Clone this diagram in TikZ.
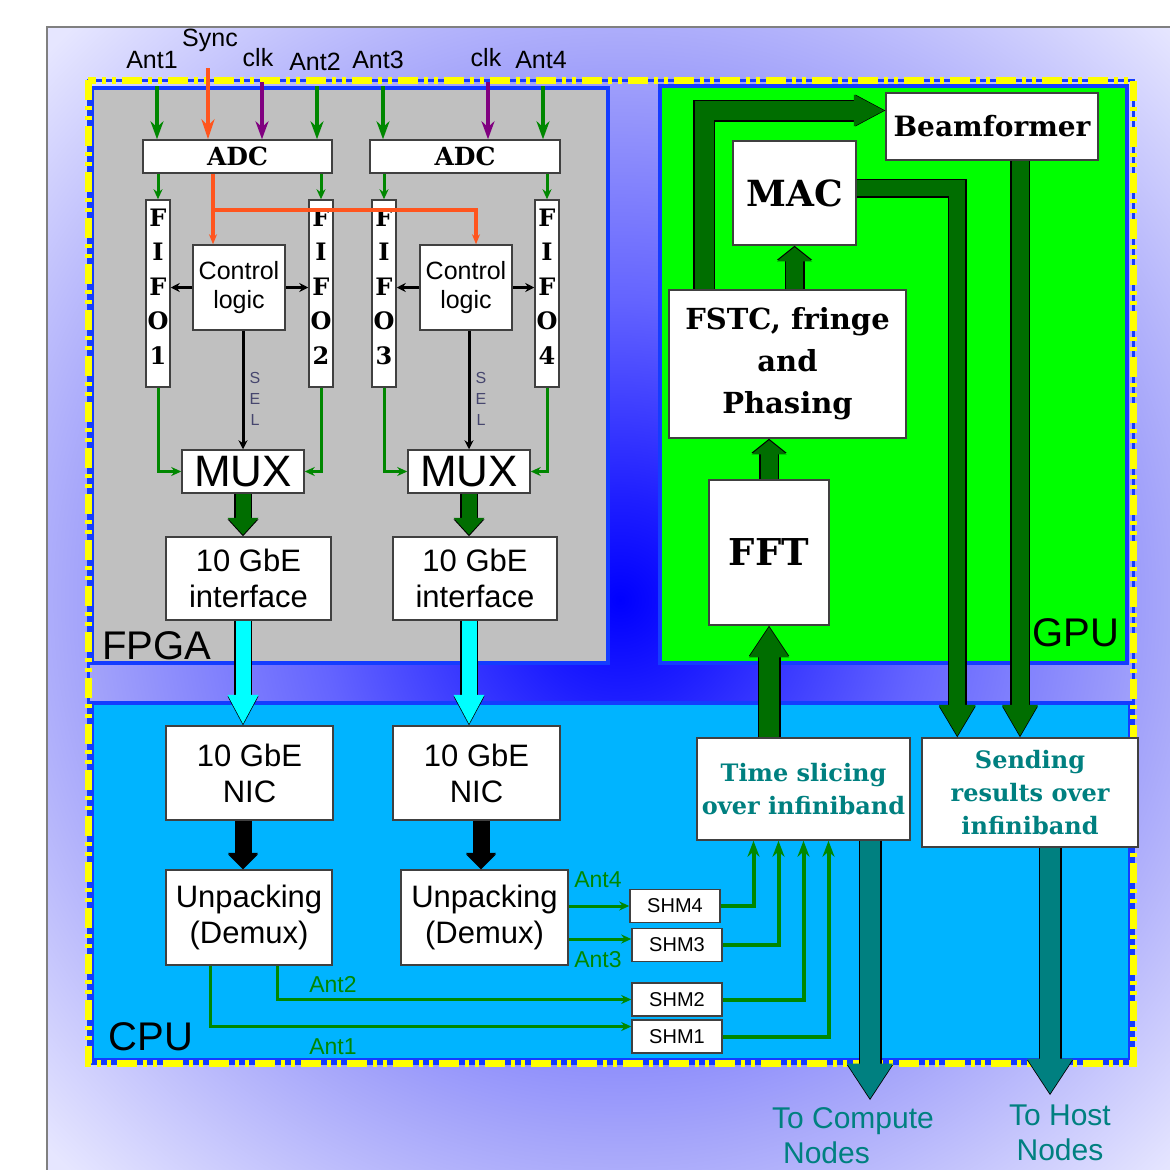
\documentclass[tikz,border=0pt]{standalone}
\usepackage{fontspec}
\setmainfont{Liberation Sans}
\newfontfamily\heavyfam{DejaVu Serif}
\usetikzlibrary{arrows.meta,positioning,calc}

\definecolor{fpgagray}{RGB}{192,192,192}
\definecolor{gpugreen}{RGB}{0,255,0}
\definecolor{cpublue}{RGB}{0,180,255}
\definecolor{edgeblue}{RGB}{20,60,255}
\definecolor{frameyellow}{RGB}{255,255,0}
\definecolor{sigreen}{RGB}{0,135,0}
\definecolor{pipegreen}{RGB}{0,110,0}
\definecolor{pipecyan}{RGB}{0,255,255}
\definecolor{syncorange}{RGB}{255,85,30}
\definecolor{clkpurple}{RGB}{128,0,128}
\definecolor{tealout}{RGB}{0,128,128}
\definecolor{seltext}{RGB}{70,70,110}
\definecolor{glowA}{RGB}{0,0,255}
\definecolor{glowB}{RGB}{30,30,255}
\definecolor{glowC}{RGB}{100,100,255}
\definecolor{glowD}{RGB}{165,165,250}
\definecolor{glowE}{RGB}{230,230,255}
\pgfdeclareradialshading{backglow}{\pgfpoint{0bp}{0bp}}{color(0bp)=(glowA); color(100bp)=(glowB); color(300bp)=(glowC); color(540bp)=(glowD); color(790bp)=(glowE); color(950bp)=(glowE)}

\newcommand{\fs}[2]{\fontsize{#1}{#2}\selectfont}
\newcommand{\hv}{\heavyfam\bfseries}
\newcommand{\stackup}[1]{\raisebox{5pt}[\height][\depth]{\begin{tabular}{@{}c@{}}#1\end{tabular}}}

\begin{document}
\begin{tikzpicture}[x=1pt, y=-1pt,
	box/.style={draw=black!75, fill=white, line width=1.5pt, inner sep=0pt, align=center},
	wh/.style 2 args={minimum width=#1pt, minimum height=#2pt},
	fifo/.style={box, wh={24}{187}, font=\hv\fs{24}{34.5}},
	shm/.style={box, wh={90}{33}, font=\fs{20}{20}},
	lbl/.style={inner sep=0pt, font=\fs{25}{25}},
	antlbl/.style={inner sep=0pt, font=\fs{23}{23}, text=sigreen},
	zone/.style={inner sep=0pt, font=\fs{40}{40}},
	feed/.style={line width=4pt, -{Stealth[length=18pt,width=13pt]}},
	sig/.style={draw=sigreen, line width=3pt, -{Stealth[length=10pt,width=9pt]}},
	ctl/.style={draw=black, line width=3pt, -{Stealth[length=9pt,width=9pt]}},
	sync/.style={draw=syncorange, line width=3.5pt},
	pipe/.style n args={4}{draw=#1, line width=#2, shorten >=1.5pt,
		-{Triangle[length=#4, width=#3, line width=0pt]},
		preaction={draw=black, line width=#2+3pt, shorten >=0pt,
			-{Triangle[length=#4, width=#3, line width=0pt]}}}
	]
	
	\useasboundingbox (0,0) rectangle (1170,1170);
	\fill[white] (0,0) rectangle (1170,1170);
	\begin{scope}
		\clip (47,27) rectangle (1170,1170);
		\node[inner sep=0pt] (glow) at (620,600) {\pgfuseshading{backglow}};
	\end{scope}
	\draw[gray, line width=1.5pt] (1170,27) -- (47,27) -- (47,1170);
	
	% the three boards
	\filldraw[fill=fpgagray, draw=edgeblue, line width=4pt] (92,88) rectangle (608,663);
	\filldraw[fill=gpugreen, draw=edgeblue, line width=4pt] (660,86) rectangle (1127,663);
	\filldraw[fill=cpublue, draw=edgeblue, line width=4pt] (92,703) rectangle (1130,1060);
	\draw[edgeblue, line width=3pt] (88,80) rectangle (1133,1063);
	\draw[frameyellow, line width=7pt, dash pattern=on 20pt off 6pt on 4pt off 6pt on 4pt off 6pt] (88,80) rectangle (1133,1063);
	
	\node[zone] (fpga) at (157,646) {FPGA};
	\node[zone] (gpu) at (1076,633) {GPU};
	\node[zone] (cpu) at (151,1037) {CPU};
	
	% FPGA
	\node[lbl] (lAnt1) at (152,60) {Ant1};
	\node[lbl] (lSync) at (210,40) {Sync};
	\node[lbl] (lClkA) at (258,58) {clk};
	\node[lbl] (lAnt2) at (315,62) {Ant2};
	\node[lbl] (lAnt3) at (378,60) {Ant3};
	\node[lbl] (lClkB) at (486,58) {clk};
	\node[lbl] (lAnt4) at (541,60) {Ant4};
	
	\node[box, wh={189}{33}, font=\hv\fs{25}{30}] (adcA) at (237.5,156.5) {ADC};
	\node[box, wh={190}{33}, font=\hv\fs{25}{30}] (adcB) at (465,156.5) {ADC};
	\foreach \i/\x in {1/158,2/321,3/384,4/547}
	\node[fifo] (fifo\i) at (\x,293.5) {\stackup{F\\I\\F\\O\\\i}};
	\node[box, wh={92}{85}, font=\fs{25}{29}] (ctlA) at (239,287.5) {Control\\logic};
	\node[box, wh={92}{85}, font=\fs{25}{29}] (ctlB) at (466,287.5) {Control\\logic};
	\node[box, wh={122}{43}, font=\fs{44}{44}] (muxA) at (243,471.5) {MUX};
	\node[box, wh={122}{43}, font=\fs{44}{44}] (muxB) at (469,471.5) {MUX};
	\node[box, wh={165}{83}, font=\fs{31}{36}] (ifA) at (248.5,578.5) {10 GbE\\interface};
	\node[box, wh={164}{83}, font=\fs{31}{36}] (ifB) at (475,578.5) {10 GbE\\interface};
	\node[inner sep=0pt, align=center, font=\fs{16}{21}, text=seltext] (selA) at (255,399) {S\\E\\L};
	\node[inner sep=0pt, align=center, font=\fs{16}{21}, text=seltext] (selB) at (481,399) {S\\E\\L};
	
	\foreach \n/\x in {1/157,2/317,3/383,4/543}{
		\coordinate (in\n) at (\x,86);
		\draw[feed, sigreen] (in\n) -- (in\n |- adcA.north);
	}
	\coordinate (clkInA) at (262,82);
	\coordinate (clkInB) at (488,82);
	\draw[feed, clkpurple] (clkInA) -- (clkInA |- adcA.north);
	\draw[feed, clkpurple] (clkInB) -- (clkInB |- adcB.north);
	\coordinate (syncIn) at (208,68);
	\coordinate (syncSplit) at (213,210);
	\draw[sync, -{Stealth[length=20pt,width=13pt]}] (syncIn) -- (syncIn |- adcA.north);
	\draw[sync, -{Stealth[length=10pt,width=8pt]}] (adcA.south -| syncSplit) -- (syncSplit) -- (syncSplit |- ctlA.north);
	\draw[sync, -{Stealth[length=10pt,width=8pt]}] (syncSplit) -| ([xshift=10pt]ctlB.north);
	
	\foreach \i/\a in {1/adcA,2/adcA,3/adcB,4/adcB}
	\draw[sig] (\a.south -| fifo\i.north) -- (fifo\i.north);
	\draw[ctl] (ctlA.west) -- (ctlA.west -| fifo1.east);
	\draw[ctl] (ctlA.east) -- (ctlA.east -| fifo2.west);
	\draw[ctl] (ctlB.west) -- (ctlB.west -| fifo3.east);
	\draw[ctl] (ctlB.east) -- (ctlB.east -| fifo4.west);
	\draw[ctl] (ctlA.south -| muxA.north) -- (muxA.north);
	\draw[ctl] (ctlB.south -| muxB.north) -- (muxB.north);
	\draw[sig] (fifo1.south) |- (muxA.west);
	\draw[sig] (fifo2.south) |- (muxA.east);
	\draw[sig] (fifo3.south) |- (muxB.west);
	\draw[sig] (fifo4.south) |- (muxB.east);
	
	\draw[pipe={pipegreen}{15pt}{31pt}{17pt}] (muxA.south) -- (muxA.south |- ifA.north);
	\draw[pipe={pipegreen}{15pt}{31pt}{17pt}] (muxB.south) -- (muxB.south |- ifB.north);
	
	% CPU
	\node[box, wh={167}{94}, font=\fs{31}{36}] (nicA) at (249.5,773) {10 GbE\\NIC};
	\node[box, wh={167}{94}, font=\fs{31}{36}] (nicB) at (476.5,773) {10 GbE\\NIC};
	\node[box, wh={166}{95}, font=\fs{31}{36}] (unpA) at (249,917.5) {Unpacking\\(Demux)};
	\node[box, wh={167}{95}, font=\fs{31}{36}] (unpB) at (484.5,917.5) {Unpacking\\(Demux)};
	\node[shm] (shm4) at (675,906) {SHM4};
	\node[shm] (shm3) at (677,945) {SHM3};
	\node[shm] (shm2) at (677,999.5) {SHM2};
	\node[shm] (shm1) at (677,1036.5) {SHM1};
	\node[box, wh={213}{102}, font=\hv\fs{24}{33}, text=tealout] (tsl) at (803.5,789) {Time slicing\\over infiniband};
	\node[box, wh={216}{109}, font=\hv\fs{24}{33}, text=tealout] (snd) at (1030,792.5) {Sending\\results over\\infiniband};
	
	\draw[pipe={pipecyan}{15pt}{31pt}{29pt}] (ifA.south -| muxA.south) -- (nicA.north -| muxA.south);
	\draw[pipe={pipecyan}{15pt}{31pt}{29pt}] (ifB.south -| muxB.south) -- (nicB.north -| muxB.south);
	\draw[pipe={black}{14pt}{30pt}{15pt}] (nicA.south -| muxA.south) -- (unpA.north -| muxA.south);
	\draw[pipe={black}{14pt}{30pt}{15pt}] ([xshift=4.5pt]nicB.south) -- ([xshift=4.5pt]nicB.south |- unpB.north);
	
	\draw[sig] (unpB.east |- shm4.west) -- (shm4.west);
	\draw[sig] ([yshift=6pt]shm3.west -| unpB.east) -- ([yshift=6pt]shm3.west);
	\draw[sig] ([xshift=28pt]unpA.south) |- (shm2.west);
	\draw[sig] ([xshift=-39pt]unpA.south) |- ([yshift=10pt]shm1.west);
	\node[antlbl] (lOut4) at (598,880) {Ant4};
	\node[antlbl] (lOut3) at (598,960) {Ant3};
	\node[antlbl] (lOut2) at (333,985) {Ant2};
	\node[antlbl] (lOut1) at (333,1047) {Ant1};
	\foreach \i/\dx in {4/-50,3/-25,2/0,1/25}
	\draw[sig, line width=4pt, -{Stealth[length=16pt,width=12pt]}] (shm\i.east) -| ([xshift=\dx pt]tsl.south);
	
	% GPU
	\node[box, wh={120}{145}, font=\hv\fs{37}{40}] (fft) at (769,552.5) {FFT};
	\node[box, wh={237}{148}, font=\hv\fs{29}{42}] (fstc) at (787.5,364) {FSTC, fringe\\and\\Phasing};
	\node[box, wh={123}{104}, font=\hv\fs{36}{40}] (mac) at (794.5,193) {MAC};
	\node[box, wh={212}{67}, font=\hv\fs{28}{30}] (beam) at (992,126.5) {Beamformer};
	
	\draw[pipe={pipegreen}{20pt}{40pt}{30pt}] (tsl.north -| fft.south) -- (fft.south);
	\draw[pipe={pipegreen}{17pt}{35pt}{14pt}] (fft.north) -- (fft.north |- fstc.south);
	\draw[pipe={pipegreen}{17pt}{35pt}{14pt}] (fstc.north -| mac.south) -- (mac.south);
	\draw[pipe={pipegreen}{19pt}{32pt}{30pt}] ([xshift=36pt]fstc.north west) |- ([yshift=16pt]beam.west);
	\draw[pipe={pipegreen}{16pt}{37pt}{31pt}] ([yshift=5pt]mac.east) -| ([xshift=36pt]snd.north west);
	\draw[pipe={pipegreen}{17pt}{36pt}{31pt}] ([xshift=28pt]beam.south) -- ([xshift=28pt]beam.south |- snd.north);
	
	\coordinate (toCompute) at (870,1100);
	\coordinate (toHost) at (1050,1095);
	\draw[pipe={tealout}{20pt}{46pt}{35pt}] (tsl.south -| toCompute) -- (toCompute);
	\draw[pipe={tealout}{20pt}{46pt}{35pt}] (snd.south -| toHost) -- (toHost);
	\node[inner sep=0pt, align=left, font=\fs{30}{35}, text=tealout] (lCompute) at (853,1136) {To Compute\\\hspace*{11pt}Nodes};
	\node[inner sep=0pt, align=center, font=\fs{30}{35}, text=tealout] (lHost) at (1060,1133) {To Host\\Nodes};
	
\end{tikzpicture}
\end{document}
